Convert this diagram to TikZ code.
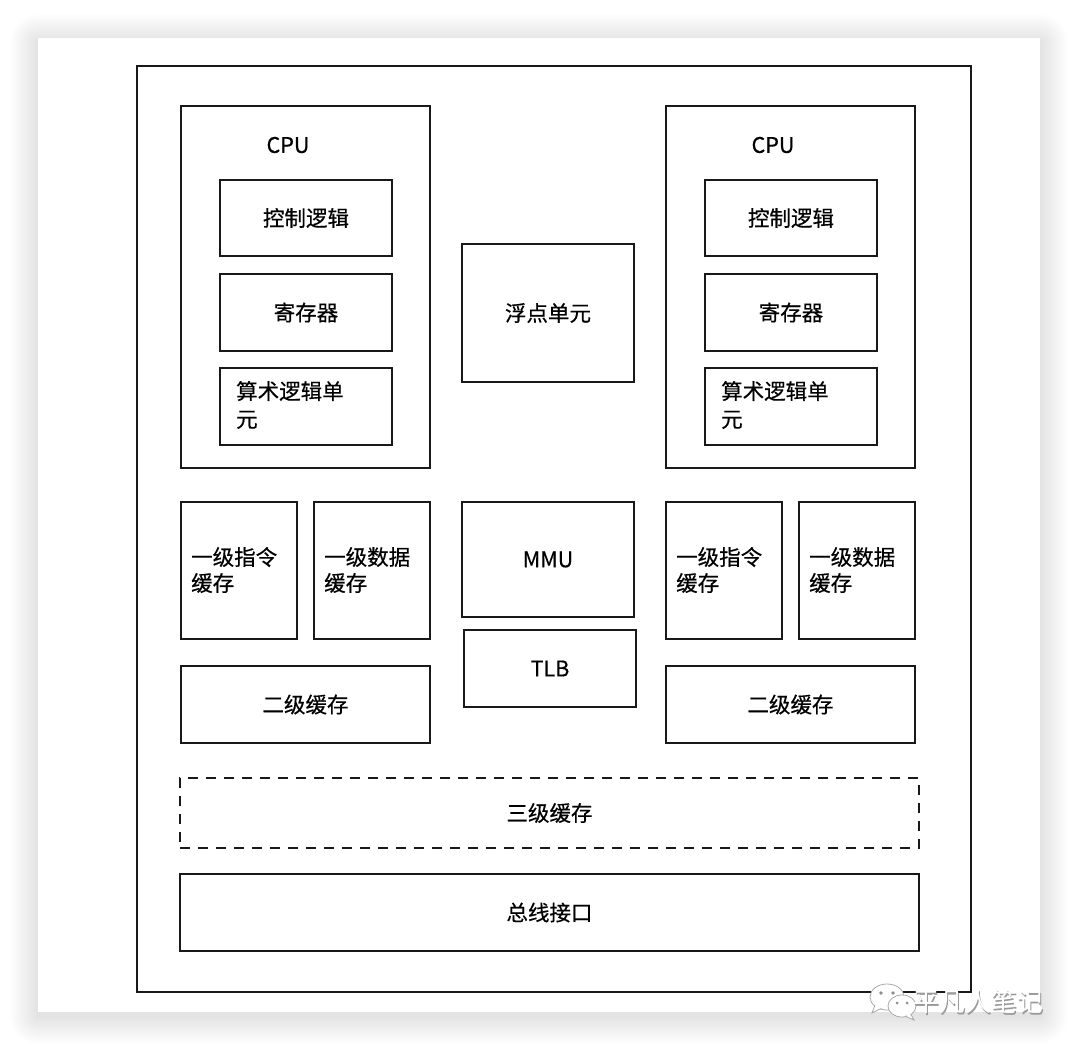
\documentclass[tikz,border=0pt]{standalone}
\usepackage{fontspec}
\setmainfont{Noto Sans CJK SC}[FakeBold=0.45,AutoFakeBold=0.45]
\newfontfamily\wmfont{Noto Sans CJK SC}
\begin{document}
\begin{tikzpicture}[x=1pt,y=-1pt,
  box/.style={draw=black!90, line width=1.8pt, inner sep=0pt, font=\bfseries\fontsize{21.5}{28}\selectfont},
  lbl/.style={inner sep=0pt, font=\bfseries\fontsize{21.5}{28}\selectfont, align=left, anchor=west},
  dashbox/.style={box, dash pattern=on 10pt off 8pt}]
\useasboundingbox (0,0) rectangle (1080,1051);
\fill[white] (0,0) rectangle (1080,1051);
% card shadow
\foreach \i in {1,...,28}{
  \fill[black, opacity=0.0035, rounded corners=\i pt] (38-\i,42-\i) rectangle (1040+\i,1016+\i);
}
\fill[white] (38,38) rectangle (1040,1012);
% outer frame
\node[box, minimum width=834, minimum height=926] (outer) at (554,529) {};
% left CPU
\node[box, minimum width=249, minimum height=362] (cpuL) at (305.5,287) {};
\node[inner sep=0pt, font=\bfseries\fontsize{21.5}{28}\selectfont] (cpuLt) at (288,145) {CPU};
\node[box, minimum width=172, minimum height=76] (ctrlL) at (306,218) {控制逻辑};
\node[box, minimum width=172, minimum height=77] (regL) at (306,312.5) {寄存器};
\node[box, minimum width=172, minimum height=77] (aluL) at (306,406.5) {};
\node[lbl] (aluLt) at (236,405) {算术逻辑单\\元};
% right CPU
\node[box, minimum width=249, minimum height=362] (cpuR) at (790.5,287) {};
\node[inner sep=0pt, font=\bfseries\fontsize{21.5}{28}\selectfont] (cpuRt) at (773,145) {CPU};
\node[box, minimum width=172, minimum height=76] (ctrlR) at (791,218) {控制逻辑};
\node[box, minimum width=172, minimum height=77] (regR) at (791,312.5) {寄存器};
\node[box, minimum width=172, minimum height=77] (aluR) at (791,406.5) {};
\node[lbl] (aluRt) at (721,405) {算术逻辑单\\元};
% FPU
\node[box, minimum width=172, minimum height=138] (fpu) at (548,313) {浮点单元};
% L1 left
\node[box, minimum width=116, minimum height=137] (l1iL) at (239,570.5) {};
\node[lbl, font=\bfseries\fontsize{21.5}{26}\selectfont] (l1iLt) at (191,570) {一级指令\\缓存};
\node[box, minimum width=116, minimum height=137] (l1dL) at (372,570.5) {};
\node[lbl, font=\bfseries\fontsize{21.5}{26}\selectfont] (l1dLt) at (324,570) {一级数据\\缓存};
% L1 right
\node[box, minimum width=116, minimum height=137] (l1iR) at (724,570.5) {};
\node[lbl, font=\bfseries\fontsize{21.5}{26}\selectfont] (l1iRt) at (676,570) {一级指令\\缓存};
\node[box, minimum width=116, minimum height=137] (l1dR) at (857,570.5) {};
\node[lbl, font=\bfseries\fontsize{21.5}{26}\selectfont] (l1dRt) at (809,570) {一级数据\\缓存};
% MMU / TLB
\node[box, minimum width=172, minimum height=115] (mmu) at (548,559.5) {MMU};
\node[box, minimum width=172, minimum height=77] (tlb) at (550,668.5) {TLB};
% L2
\node[box, minimum width=249, minimum height=77] (l2L) at (305.5,704.5) {二级缓存};
\node[box, minimum width=249, minimum height=77] (l2R) at (790.5,704.5) {二级缓存};
% L3
\node[dashbox, minimum width=739, minimum height=70] (l3) at (549.5,813) {三级缓存};
% bus
\node[box, minimum width=739, minimum height=77] (bus) at (549.5,912.5) {总线接口};
% watermark
\begin{scope}[line width=0.8pt]
\fill[white, draw=black!35] (887,997) ellipse (17 and 13);
\fill[white, draw=black!35] (875,1005) -- (872,1013) -- (882,1008) -- cycle;
\fill[white] (887,997) ellipse (16.2 and 12.2);
\fill[black!45] (881,993) circle (1.8);
\fill[black!45] (893,993) circle (1.8);
\fill[white, draw=black!35] (902,1006) ellipse (14 and 11);
\fill[white, draw=black!35] (910,1013) -- (914,1020) -- (905,1016) -- cycle;
\fill[white] (902,1006) ellipse (13.2 and 10.2);
\fill[black!45] (897,1003) circle (1.5);
\fill[black!45] (907,1003) circle (1.5);
\end{scope}
\node[inner sep=0pt, font=\wmfont\fontsize{26}{26}\selectfont, text=black!40] (wms) at (979.5,1003.5) {平凡人笔记};
\node[inner sep=0pt, font=\wmfont\fontsize{26}{26}\selectfont, text=white] (wm) at (978.5,1002) {平凡人笔记};
\end{tikzpicture}
\end{document}
